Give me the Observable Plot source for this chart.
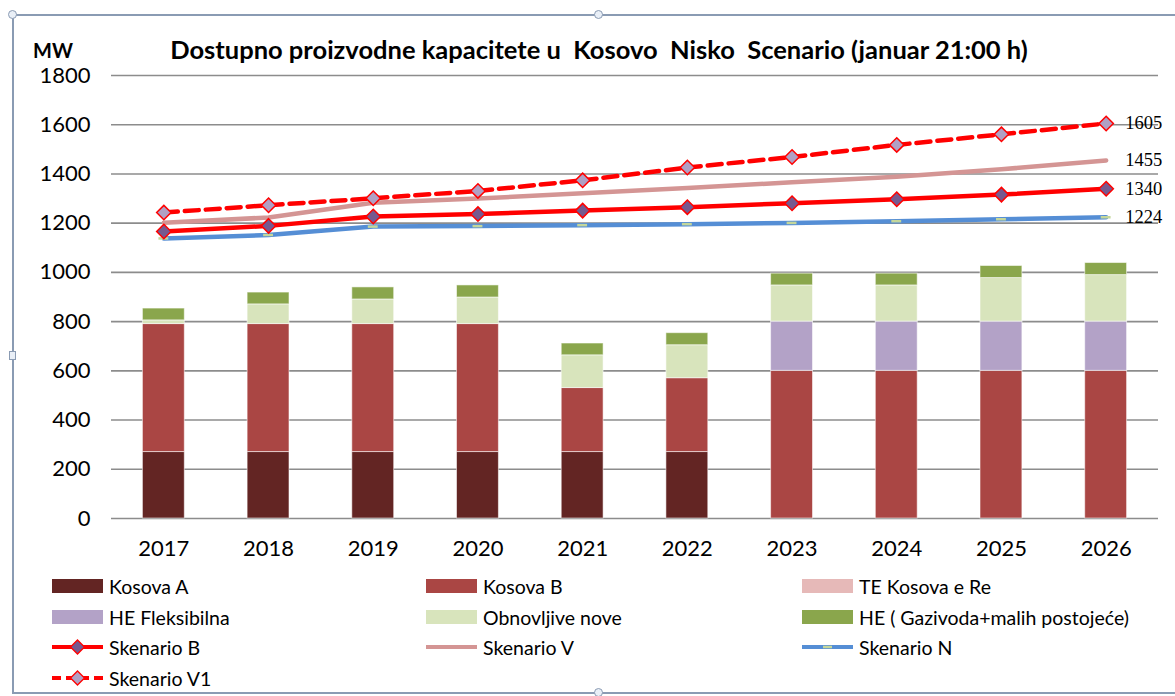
<!DOCTYPE html>
<html>
<head>
<meta charset="utf-8">
<script src="https://cdn.jsdelivr.net/npm/d3@7"></script>
<script src="https://cdn.jsdelivr.net/npm/@observablehq/plot@0.6"></script>
<style>
  html, body { margin: 0; padding: 0; background: #fff; }
  #wrap { position: relative; width: 1175px; height: 696px; overflow: hidden; font-family: Lato, "Open Sans", sans-serif; color: #000; }
  #frameTop { position: absolute; left: 13px; top: 14px; width: 1170px; height: 0; border-top: 2px solid #8a9bb3; }
  #frameLeft { position: absolute; left: 12px; top: 14px; width: 0; height: 680px; border-left: 2px solid #8a9bb3; }
  #frameBottom { position: absolute; left: 13px; top: 692px; width: 1170px; height: 0; border-top: 2px solid #8a9bb3; }
  .handle { position: absolute; width: 7px; height: 7px; border: 1px solid #8a9bb3; background: #e9eff7; border-radius: 50%; }
  .handleSq { position: absolute; width: 5px; height: 7px; border: 1px solid #8a9bb3; background: #e9eff7; }
  #chart { position: absolute; left: 0; top: 0; }
  #title { position: absolute; top: 34px; left: 599px; transform: translateX(-50%); white-space: pre; font-weight: bold; font-size: 25.5px; }
  #mw { position: absolute; top: 38px; left: 33px; font-weight: bold; font-size: 20px; }
  .leg { position: absolute; display: flex; align-items: center; font-size: 19.5px; white-space: pre; height: 24px; }
  .leg svg { margin-right: 6px; }
  g[aria-label="x-axis tick label"] text, g[aria-label="y-axis tick label"] text,
  g[aria-label="x-axis"] text, g[aria-label="y-axis"] text { font-size: 22px; font-family: Lato, "Open Sans", sans-serif; fill: #000; }
</style>
</head>
<body>
<div id="wrap">
  <div id="frameTop"></div>
  <div id="frameLeft"></div>
  <div id="frameBottom"></div>
  <div id="chart"></div>
  <div id="mw">MW</div>
  <div id="title">Dostupno proizvodne kapacitete u  Kosovo  Nisko  Scenario (januar 21:00 h)</div>
  <div id="legend"></div>
  <div class="handle" style="left:8px;top:10px"></div>
  <div class="handle" style="left:594px;top:10px"></div>
  <div class="handleSq" style="left:9px;top:351px"></div>
  <div class="handle" style="left:594px;top:688px"></div>
</div>
<script>
// ---- data ----
const years = ["2017","2018","2019","2020","2021","2022","2023","2024","2025","2026"];
const kosovaA     = [270, 270, 270, 270, 270, 270, 0, 0, 0, 0];
const kosovaB     = [520, 520, 520, 520, 260, 300, 600, 600, 600, 600];
const teKosovaERe = [0, 0, 0, 0, 0, 0, 0, 0, 0, 0];
const heFleksibilna = [0, 0, 0, 0, 0, 0, 200, 200, 200, 200];
const obnovljiveNove = [15, 80, 100, 108, 133, 134, 147, 147, 177, 189];
const heGazivoda  = [48, 48, 49, 49, 48, 49, 48, 48, 49, 49];
const skenarioB   = [1166, 1189, 1227, 1237, 1251, 1265, 1281, 1297, 1316, 1340];
const skenarioV   = [1202, 1223, 1283, 1300, 1322, 1343, 1366, 1389, 1419, 1455];
const skenarioN   = [1138, 1152, 1186, 1188, 1192, 1196, 1201, 1208, 1216, 1224];
const skenarioV1  = [1243, 1273, 1301, 1331, 1374, 1426, 1469, 1518, 1561, 1605];
const barNames = ["Kosova A", "Kosova B", "TE Kosova e Re", "HE Fleksibilna", "Obnovljive nove", "HE ( Gazivoda+malih postojeće)"];
const barColors = ["#632523", "#aa4644", "#e6b9b8", "#b3a2c7", "#d8e4bc", "#8aa64c"];
const yTickValues = [0, 200, 400, 600, 800, 1000, 1200, 1400, 1600, 1800];

// ---- tables ----
const barSeries = [kosovaA, kosovaB, teKosovaERe, heFleksibilna, obnovljiveNove, heGazivoda];
const bars = [];
barSeries.forEach((arr, s) => arr.forEach((v, i) => bars.push({year: years[i], series: barNames[s], value: v})));
const toRows = (arr) => arr.map((v, i) => ({year: years[i], value: v}));
const rowsB = toRows(skenarioB), rowsV = toRows(skenarioV), rowsN = toRows(skenarioN), rowsV1 = toRows(skenarioV1);
const lastLabels = [rowsV1, rowsV, rowsB, rowsN].map(r => r[r.length - 1]);

const chart = Plot.plot({
  width: 1175,
  height: 570,
  marginTop: 75,
  marginBottom: 52,
  marginLeft: 111,
  marginRight: 17,
  style: {fontFamily: "Lato, 'Open Sans', sans-serif", fontSize: "22px", color: "#000", background: "transparent", overflow: "visible"},
  x: {domain: years, paddingInner: 0.6, paddingOuter: 0.3, round: false, tickSize: 0, tickPadding: 22, label: null},
  y: {domain: [0, 1800], ticks: 9, tickFormat: d => String(d), tickSize: 0, tickPadding: 21, label: null},
  color: {domain: barNames, range: barColors},
  marks: [
    Plot.ruleY(yTickValues, {stroke: "#8c8c8c", strokeWidth: 1.6}),
    Plot.barY(bars, {x: "year", y: "value", fill: "series", order: barNames, stroke: "#ffffff", strokeOpacity: 0.55, strokeWidth: 1}),
    Plot.line(rowsN, {x: "year", y: "value", stroke: "#558ed5", strokeWidth: 4.5}),
    Plot.tickY(rowsN, {x: "year", y: "value", stroke: "#c4d79b", strokeWidth: 2.5, inset: 16}),
    Plot.line(rowsV, {x: "year", y: "value", stroke: "#d49594", strokeWidth: 4.5}),
    Plot.line(rowsB, {x: "year", y: "value", stroke: "#ff0000", strokeWidth: 4.5}),
    Plot.dot(rowsB, {x: "year", y: "value", symbol: "diamond2", r: 6.5, fill: "#76598f", stroke: "#ff0000", strokeWidth: 1.5}),
    Plot.line(rowsV1, {x: "year", y: "value", stroke: "#ff0000", strokeWidth: 4.5, strokeDasharray: "14,7"}),
    Plot.dot(rowsV1, {x: "year", y: "value", symbol: "diamond2", r: 6.5, fill: "#b0a0c4", stroke: "#ff0000", strokeWidth: 1.5}),
    Plot.text(lastLabels, {x: "year", y: "value", text: d => String(d.value), dx: 19, textAnchor: "start", fontFamily: "'Liberation Serif', 'DejaVu Serif', serif", fontSize: 18.5, fill: "#000"})
  ]
});
document.getElementById("chart").appendChild(chart);

// ---- legend ----
const legendItems = [
  {label: "Kosova A", kind: "rect", color: "#632523", x: 52, y: 586},
  {label: "Kosova B", kind: "rect", color: "#aa4644", x: 426, y: 586},
  {label: "TE Kosova e Re", kind: "rect", color: "#e6b9b8", x: 802, y: 586},
  {label: "HE Fleksibilna", kind: "rect", color: "#b3a2c7", x: 52, y: 617},
  {label: "Obnovljive nove", kind: "rect", color: "#d8e4bc", x: 426, y: 617},
  {label: "HE ( Gazivoda+malih postojeće)", kind: "rect", color: "#8aa64c", x: 802, y: 617},
  {label: "Skenario B", kind: "lineB", x: 52, y: 647},
  {label: "Skenario V", kind: "lineV", x: 426, y: 647},
  {label: "Skenario N", kind: "lineN", x: 802, y: 647},
  {label: "Skenario V1", kind: "lineV1", x: 52, y: 678}
];
function swatch(kind, color) {
  const w = 51, h = 16;
  let inner = "";
  if (kind === "rect") inner = `<rect x="0" y="1" width="${w}" height="14" fill="${color}"/>`;
  else if (kind === "lineB") inner = `<line x1="0" x2="${w}" y1="8" y2="8" stroke="#ff0000" stroke-width="4"/><path d="M25.5,1 L32.5,8 L25.5,15 L18.5,8 Z" fill="#76598f" stroke="#ff0000" stroke-width="1.3"/>`;
  else if (kind === "lineV") inner = `<line x1="0" x2="${w}" y1="8" y2="8" stroke="#d49594" stroke-width="4"/>`;
  else if (kind === "lineN") inner = `<line x1="0" x2="${w}" y1="8" y2="8" stroke="#558ed5" stroke-width="4"/><line x1="21" x2="30" y1="8" y2="8" stroke="#c4d79b" stroke-width="2.5"/>`;
  else if (kind === "lineV1") inner = `<line x1="0" x2="${w}" y1="8" y2="8" stroke="#ff0000" stroke-width="4" stroke-dasharray="9,5"/><path d="M25.5,1 L32.5,8 L25.5,15 L18.5,8 Z" fill="#b0a0c4" stroke="#ff0000" stroke-width="1.3"/>`;
  return `<svg width="${w}" height="${h}">${inner}</svg>`;
}
const legend = document.getElementById("legend");
legendItems.forEach(it => {
  const d = document.createElement("div");
  d.className = "leg";
  d.style.left = it.x + "px";
  d.style.top = (it.y - 12) + "px";
  d.innerHTML = swatch(it.kind, it.color) + `<span>${it.label}</span>`;
  legend.appendChild(d);
});
</script>
</body>
</html>
